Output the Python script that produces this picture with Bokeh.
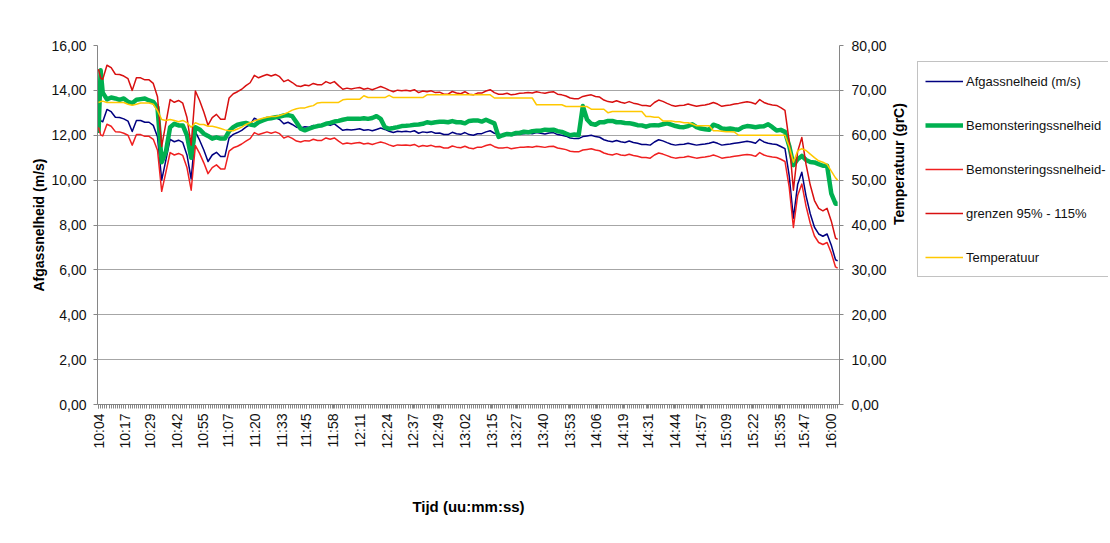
import math
from bokeh.plotting import figure
from bokeh.layouts import row
from bokeh.models import Range1d, LinearAxis, FixedTicker, Legend, LegendItem
from bokeh.embed import file_html
from bokeh.resources import INLINE

# ---------------- data ----------------
time_labels = ["10:04", "10:17", "10:29", "10:42", "10:55", "11:07", "11:20", "11:33",
               "11:45", "11:58", "12:11", "12:24", "12:37", "12:49", "13:02", "13:15",
               "13:27", "13:40", "13:53", "14:06", "14:19", "14:31", "14:44", "14:57",
               "15:09", "15:22", "15:35", "15:47", "16:00"]
speed_ticks = [0, 2, 4, 6, 8, 10, 12, 14, 16]
speed_tick_labels = ["0,00", "2,00", "4,00", "6,00", "8,00", "10,00", "12,00", "14,00", "16,00"]
temp_ticks = [0, 10, 20, 30, 40, 50, 60, 70, 80]
temp_tick_labels = ["0,00", "10,00", "20,00", "30,00", "40,00", "50,00", "60,00", "70,00", "80,00"]

# sample numbers of the plotted readings (one reading about every 61 s)
sample = [0, 1] + list(range(2, 351, 2)) + [351]
first_minute = 10 * 60 + 4
sample_period_min = 61.4 / 60.0
n_samples = 352

afgassnelheid = [
    13.0, 12.65, 12.6, 13.15, 13.05, 12.8, 12.79, 12.73, 12.63, 12.17,
    12.66, 12.66, 12.58, 12.58, 12.44, 11.93, 10.0, 10.9, 11.82, 11.71,
    11.78, 11.68, 11.12, 10.05, 12.15, 11.78, 11.34, 10.83, 11.12, 11.24,
    11.05, 11.05, 11.88, 12.04, 12.12, 12.22, 12.36, 12.47, 12.76, 12.66,
    12.73, 12.79, 12.73, 12.79, 12.7, 12.51, 12.58, 12.48, 12.36, 12.32,
    12.38, 12.36, 12.44, 12.39, 12.39, 12.51, 12.44, 12.51, 12.36, 12.22,
    12.26, 12.23, 12.26, 12.29, 12.22, 12.25, 12.2, 12.26, 12.32, 12.26,
    12.18, 12.12, 12.18, 12.16, 12.18, 12.15, 12.2, 12.09, 12.15, 12.12,
    12.16, 12.09, 12.1, 12.03, 12.03, 12.13, 12.07, 12.04, 12.12, 12.03,
    12.0, 12.07, 12.07, 12.15, 12.2, 12.09, 12.03, 12.03, 12.06, 12.0,
    12.03, 12.06, 12.07, 12.09, 12.07, 12.12, 12.09, 12.06, 12.1, 12.12,
    12.03, 12.0, 11.96, 11.88, 11.85, 11.85, 11.94, 11.97, 12.0, 11.94,
    11.91, 11.8, 11.74, 11.71, 11.77, 11.71, 11.68, 11.74, 11.68, 11.64,
    11.59, 11.59, 11.56, 11.7, 11.8, 11.75, 11.67, 11.6, 11.56, 11.59,
    11.6, 11.64, 11.6, 11.56, 11.59, 11.61, 11.64, 11.7, 11.64, 11.56,
    11.59, 11.61, 11.64, 11.67, 11.7, 11.73, 11.7, 11.64, 11.82, 11.7,
    11.64, 11.61, 11.59, 11.5, 11.4, 10.2, 8.3, 9.8, 10.35, 9.3,
    8.5, 7.9, 7.6, 7.5, 7.6, 7.1, 6.45, 6.4]

bemonsteringssnelheid = [
    12.1, 14.9, 13.9, 13.6, 13.68, 13.64, 13.58, 13.64, 13.49, 13.43,
    13.58, 13.61, 13.64, 13.55, 13.49, 13.24, 10.8, 11.27, 12.36, 12.51,
    12.44, 12.44, 12.0, 11.0, 12.36, 12.26, 12.07, 11.97, 11.85, 11.91,
    11.85, 11.85, 12.18, 12.36, 12.47, 12.51, 12.55, 12.48, 12.44, 12.58,
    12.66, 12.73, 12.76, 12.8, 12.83, 12.88, 12.9, 12.85, 12.58, 12.29,
    12.22, 12.29, 12.36, 12.41, 12.44, 12.51, 12.55, 12.61, 12.64, 12.69,
    12.73, 12.73, 12.73, 12.73, 12.76, 12.73, 12.77, 12.85, 12.73, 12.36,
    12.29, 12.32, 12.36, 12.41, 12.42, 12.44, 12.47, 12.48, 12.51, 12.58,
    12.55, 12.58, 12.6, 12.6, 12.58, 12.63, 12.58, 12.58, 12.53, 12.64,
    12.66, 12.66, 12.61, 12.69, 12.61, 12.53, 11.93, 12.0, 12.06, 12.03,
    12.1, 12.1, 12.16, 12.13, 12.18, 12.2, 12.2, 12.25, 12.23, 12.25,
    12.18, 12.15, 12.07, 12.0, 12.03, 12.0, 13.3, 12.7, 12.51, 12.47,
    12.58, 12.58, 12.64, 12.64, 12.58, 12.58, 12.55, 12.54, 12.5, 12.45,
    12.44, 12.38, 12.44, 12.45, 12.44, 12.49, 12.53, 12.47, 12.41, 12.37,
    12.36, 12.41, 12.49, 12.36, 12.3, 12.27, 12.24, 12.47, 12.41, 12.3,
    12.28, 12.3, 12.27, 12.25, 12.36, 12.41, 12.39, 12.36, 12.39, 12.4,
    12.49, 12.36, 12.21, 12.24, 12.15, 11.53, 10.67, 10.93, 11.08, 10.9,
    10.81, 10.79, 10.71, 10.64, 10.64, 9.4, 8.95, 8.95]

# lower (95 %) and upper (115 %) limits
grens_95 = [
    12.35, 12.02, 11.97, 12.49, 12.40, 12.16, 12.15, 12.09, 12.00, 11.56,
    12.03, 12.03, 11.95, 11.95, 11.82, 11.33, 9.50, 10.36, 11.23, 11.12,
    11.19, 11.10, 10.56, 9.55, 11.54, 11.19, 10.77, 10.29, 10.56, 10.68,
    10.50, 10.50, 11.29, 11.44, 11.51, 11.61, 11.74, 11.85, 12.12, 12.03,
    12.09, 12.15, 12.09, 12.15, 12.07, 11.88, 11.95, 11.86, 11.74, 11.70,
    11.76, 11.74, 11.82, 11.77, 11.77, 11.88, 11.82, 11.88, 11.74, 11.61,
    11.65, 11.62, 11.65, 11.68, 11.61, 11.64, 11.59, 11.65, 11.70, 11.65,
    11.57, 11.51, 11.57, 11.55, 11.57, 11.54, 11.59, 11.49, 11.54, 11.51,
    11.55, 11.49, 11.50, 11.43, 11.43, 11.52, 11.47, 11.44, 11.51, 11.43,
    11.40, 11.47, 11.47, 11.54, 11.59, 11.49, 11.43, 11.43, 11.46, 11.40,
    11.43, 11.46, 11.47, 11.49, 11.47, 11.51, 11.49, 11.46, 11.50, 11.51,
    11.43, 11.40, 11.36, 11.29, 11.26, 11.26, 11.34, 11.37, 11.40, 11.34,
    11.31, 11.21, 11.15, 11.12, 11.18, 11.12, 11.10, 11.15, 11.10, 11.06,
    11.01, 11.01, 10.98, 11.12, 11.21, 11.16, 11.09, 11.02, 10.98, 11.01,
    11.02, 11.06, 11.02, 10.98, 11.01, 11.03, 11.06, 11.12, 11.06, 10.98,
    11.01, 11.03, 11.06, 11.09, 11.12, 11.14, 11.12, 11.06, 11.23, 11.12,
    11.06, 11.03, 11.01, 10.93, 10.83, 9.69, 7.89, 9.31, 9.83, 8.84,
    8.08, 7.51, 7.22, 7.13, 7.22, 6.75, 6.13, 6.08]

grens_115 = [
    14.95, 14.55, 14.49, 15.12, 15.01, 14.72, 14.71, 14.64, 14.52, 14.00,
    14.56, 14.56, 14.47, 14.47, 14.31, 13.72, 11.50, 12.54, 13.59, 13.47,
    13.55, 13.43, 12.79, 11.56, 13.97, 13.55, 13.04, 12.45, 12.79, 12.93,
    12.71, 12.71, 13.66, 13.85, 13.94, 14.05, 14.21, 14.34, 14.67, 14.56,
    14.64, 14.71, 14.64, 14.71, 14.61, 14.39, 14.47, 14.35, 14.21, 14.17,
    14.24, 14.21, 14.31, 14.25, 14.25, 14.39, 14.31, 14.39, 14.21, 14.05,
    14.10, 14.06, 14.10, 14.13, 14.05, 14.09, 14.03, 14.10, 14.17, 14.10,
    14.01, 13.94, 14.01, 13.98, 14.01, 13.97, 14.03, 13.90, 13.97, 13.94,
    13.98, 13.90, 13.92, 13.83, 13.83, 13.95, 13.88, 13.85, 13.94, 13.83,
    13.80, 13.88, 13.88, 13.97, 14.03, 13.90, 13.83, 13.83, 13.87, 13.80,
    13.83, 13.87, 13.88, 13.90, 13.88, 13.94, 13.90, 13.87, 13.92, 13.94,
    13.83, 13.80, 13.75, 13.66, 13.63, 13.63, 13.73, 13.77, 13.80, 13.73,
    13.70, 13.57, 13.50, 13.47, 13.54, 13.47, 13.43, 13.50, 13.43, 13.39,
    13.33, 13.33, 13.29, 13.46, 13.57, 13.51, 13.42, 13.34, 13.29, 13.33,
    13.34, 13.39, 13.34, 13.29, 13.33, 13.35, 13.39, 13.46, 13.39, 13.29,
    13.33, 13.35, 13.39, 13.42, 13.46, 13.49, 13.46, 13.39, 13.59, 13.46,
    13.39, 13.35, 13.33, 13.23, 13.11, 11.73, 9.55, 11.27, 11.90, 10.70,
    9.78, 9.09, 8.74, 8.63, 8.74, 8.17, 7.42, 7.36]

temperatuur = [
    67.3, 67.5, 67.6, 67.3, 67.3, 67.3, 67.3, 67.3, 66.9, 66.7,
    66.9, 67.2, 67.2, 67.2, 66.9, 65.5, 63.5, 63.3, 63.5, 63.3,
    63.0, 63.3, 62.8, 61.8, 62.8, 62.4, 62.4, 62.0, 62.0, 61.8,
    61.5, 61.2, 61.0, 61.0, 61.4, 61.8, 62.4, 62.8, 63.2, 63.5,
    63.8, 64.0, 64.2, 64.2, 64.4, 64.7, 65.1, 65.6, 65.9, 66.1,
    66.1, 66.4, 66.6, 67.2, 67.3, 67.3, 67.3, 67.3, 67.3, 67.9,
    68.0, 68.0, 68.0, 68.0, 68.8, 68.4, 68.4, 68.4, 68.4, 68.4,
    68.9, 68.4, 68.4, 68.4, 68.4, 68.4, 68.4, 68.4, 68.4, 69.0,
    69.0, 69.0, 69.0, 69.0, 69.0, 69.0, 69.0, 69.0, 69.0, 69.0,
    69.0, 69.0, 69.0, 69.0, 69.0, 68.3, 68.3, 68.3, 68.3, 68.3,
    68.3, 68.3, 68.3, 68.3, 68.3, 66.8, 66.8, 66.8, 66.8, 66.8,
    66.8, 66.8, 66.4, 66.4, 66.4, 66.4, 66.4, 66.4, 65.8, 65.8,
    65.8, 65.8, 65.0, 65.3, 65.3, 65.3, 65.3, 65.3, 65.3, 65.3,
    65.3, 64.2, 64.2, 64.0, 64.0, 63.2, 63.2, 63.2, 63.0, 63.0,
    62.8, 62.8, 62.5, 62.1, 62.1, 62.1, 62.1, 61.0, 61.0, 60.9,
    60.8, 60.8, 60.7, 60.0, 60.0, 60.0, 60.0, 60.0, 60.0, 60.0,
    60.0, 60.0, 60.0, 60.0, 60.0, 57.5, 54.0, 56.5, 57.0, 56.6,
    55.8, 55.0, 54.3, 54.0, 53.5, 52.0, 50.5, 50.0]

series_names = ["Afgassnelheid (m/s)", "Bemonsteringssnelheid",
                "Bemonsteringssnelheid-", "grenzen 95% - 115%", "Temperatuur"]
series_colors = ["#000080", "#00B050", "#F02020", "#D81010", "#FFC800"]
series_widths = [1.5, 4.5, 1.5, 1.5, 1.5]

# ---------------- derived positions ----------------
minutes = [first_minute + s * sample_period_min for s in sample]
all_sample_minutes = [first_minute + s * sample_period_min for s in range(n_samples)]


def to_minutes(lbl):
    h, m = lbl.split(":")
    return int(h) * 60 + int(m)


label_pos = [to_minutes(l) for l in time_labels]

# ---------------- layout constants ----------------
TOTAL_W, H = 1108, 541
LEFT, TOP = 97, 45
FW, FH = 744, 359
MAIN_W = 917                      # legend box starts here
LEG_W = TOTAL_W - MAIN_W
FONT = "Liberation Sans"
AXIS_COLOR = "#868686"

p = figure(width=MAIN_W, height=H,
           x_range=Range1d(603.5, 964.1), y_range=Range1d(0, 16),
           output_backend="svg", toolbar_location=None,
           min_border_left=LEFT, min_border_right=MAIN_W - LEFT - FW,
           min_border_top=TOP, min_border_bottom=H - TOP - FH,
           background_fill_color="white", border_fill_color="white")
p.outline_line_color = None
p.extra_y_ranges = {"temp": Range1d(0, 80)}

# x axis
xa = p.xaxis[0]
xa.ticker = FixedTicker(ticks=label_pos, minor_ticks=all_sample_minutes)
xa.major_label_overrides = {pos: lbl for pos, lbl in zip(label_pos, time_labels)}
xa.major_label_orientation = math.pi / 2
xa.axis_label = "Tijd (uu:mm:ss)"

# left axis
ya = p.yaxis[0]
ya.ticker = FixedTicker(ticks=speed_ticks)
ya.major_label_overrides = {t: l for t, l in zip(speed_ticks, speed_tick_labels)}
ya.axis_label = "Afgassnelheid (m/s)"

# right axis
ra = LinearAxis(y_range_name="temp", ticker=FixedTicker(ticks=temp_ticks),
                major_label_overrides={t: l for t, l in zip(temp_ticks, temp_tick_labels)},
                axis_label="Temperatuur (grC)")
if "axis_label_orientation" in ra.properties():
    ra.axis_label_orientation = math.pi / 2
p.add_layout(ra, "right")

for ax in (xa, ya, ra):
    ax.axis_line_color = AXIS_COLOR
    ax.major_tick_line_color = AXIS_COLOR
    ax.minor_tick_line_color = AXIS_COLOR
    ax.major_tick_out = 4
    ax.major_tick_in = 0
    ax.minor_tick_out = 4
    ax.minor_tick_in = 0
    ax.major_label_text_font = FONT
    ax.major_label_text_font_size = "14px"
    ax.major_label_text_color = "#111111"
    ax.axis_label_text_font = FONT
    ax.axis_label_text_font_size = "14px"
    ax.axis_label_text_font_style = "bold"
    ax.axis_label_text_color = "#000000"
xa.major_label_standoff = 5
xa.axis_label_standoff = 46
xa.axis_label_text_font_size = "15px"
ya.major_label_standoff = 7
ya.axis_label_standoff = 1
ra.major_label_standoff = 8
ra.axis_label_standoff = 9

p.ygrid.grid_line_color = "#A6A6A6"
p.xgrid.grid_line_color = None

# ---------------- series ----------------
values = [afgassnelheid, bemonsteringssnelheid, grens_95, grens_115, temperatuur]
renderers = []
for i, (vals, col, lw) in enumerate(zip(values, series_colors, series_widths)):
    kw = {"y_range_name": "temp"} if i == 4 else {}
    renderers.append(p.line(minutes, vals, line_color=col, line_width=lw,
                            line_join="round", **kw))

# ---------------- legend (own panel at the right, cut off like the original) ----------------
lf = figure(width=LEG_W, height=H, x_range=Range1d(0, 1), y_range=Range1d(0, 1),
            output_backend="svg", toolbar_location=None,
            min_border_left=0, min_border_right=0,
            min_border_top=TOP, min_border_bottom=H - TOP - FH,
            x_axis_location=None, y_axis_location=None,
            background_fill_color="white", border_fill_color="white")
lf.outline_line_color = None
lf.xgrid.visible = False
lf.ygrid.visible = False
# same series, drawn outside this panel's ranges, only to carry the legend glyphs
proxies = []
for i, (vals, col, lw) in enumerate(zip(values, series_colors, series_widths)):
    proxies.append(lf.line(minutes, vals, line_color=col, line_width=lw))

legend_top, legend_bottom = 62, 277
legend = Legend(
    items=[LegendItem(label=n, renderers=[r]) for n, r in zip(series_names, proxies)],
    location=(0, (TOP + FH) - legend_bottom),
    orientation="vertical",
    border_line_color="#868686", border_line_width=1,
    background_fill_color="white", background_fill_alpha=1.0,
    label_text_font=FONT, label_text_font_size="13px", label_text_color="#111111",
    glyph_width=38, glyph_height=24, label_height=24, label_standoff=3,
    spacing=20, padding=7, margin=0)
lf.add_layout(legend, "center")

layout = row(p, lf, spacing=0)
open("out.html", "w").write(file_html(layout, INLINE))
